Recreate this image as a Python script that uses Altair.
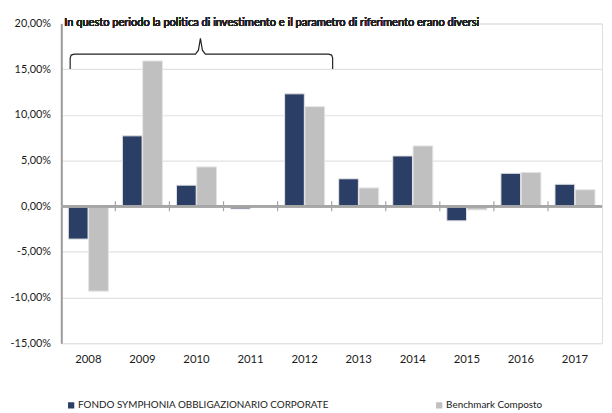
import altair as alt
import pandas as pd

years = ["2008", "2009", "2010", "2011", "2012", "2013", "2014", "2015", "2016", "2017"]
fund = [-3.6, 7.7, 2.3, -0.3, 12.3, 3.0, 5.5, -1.6, 3.6, 2.4]
bench = [-9.3, 15.9, 4.3, 0.0, 10.9, 2.0, 6.6, -0.4, 3.7, 1.8]
series = ["FONDO SYMPHONIA OBBLIGAZIONARIO CORPORATE", "Benchmark Composto"]
colors = ["#2b3e66", "#c0c0c0"]
y_ticks = [-15, -10, -5, 0, 5, 10, 15, 20]
note = "In questo periodo la politica di investimento e il parametro di riferimento erano diversi"

# brace shape (annotation, pixel space of plot area)
brace_x = [9, 9, 10, 13, 136, 139, 141, 143, 146, 271, 274, 275, 275]
brace_y = [46, 35, 32, 31, 31, 27, 15, 27, 31, 31, 32, 35, 46]

FONT = "Lato"

rows = []
for i, yr in enumerate(years):
    rows.append({"year": yr, "series": series[0], "value": fund[i]})
    rows.append({"year": yr, "series": series[1], "value": bench[i]})
df = pd.DataFrame(rows)
df_years = pd.DataFrame({"year": years})
df_brace = pd.DataFrame({"px": brace_x, "py": brace_y, "i": list(range(len(brace_x)))})

W, H = 548, 324

yscale = alt.Scale(domain=[-15, 20], nice=False, zero=False)

label_expr = "(datum.value < 0 ? '-' : '') + replace(format(abs(datum.value), '.2f'), '.', ',') + '%'"

bars = alt.Chart(df).mark_bar(stroke="#e4e4e4", strokeWidth=1).encode(
    x=alt.X("year:N", sort=years,
            scale=alt.Scale(paddingInner=0.26, paddingOuter=0.13),
            axis=alt.Axis(title=None, labelAngle=0, domain=False, ticks=False, grid=False,
                          labelPadding=11, labelFontSize=11.5, labelColor="#1a1a1a", labelFont=FONT)),
    xOffset=alt.XOffset("series:N", sort=series, scale=alt.Scale(paddingInner=0.03, paddingOuter=0)),
    y=alt.Y("value:Q", scale=yscale,
            axis=alt.Axis(title=None, values=y_ticks, labelExpr=label_expr, ticks=False,
                          domain=True, domainColor="#9a9a9a", domainWidth=2,
                          gridColor="#e2e2e2", gridWidth=1.2, labelPadding=11,
                          labelFontSize=11, labelColor="#1a1a1a", labelFont=FONT)),
    color=alt.Color("series:N", sort=series,
                    scale=alt.Scale(domain=series, range=colors),
                    legend=alt.Legend(title=None, orient="none", legendX=5, legendY=382,
                                      direction="horizontal", symbolType="square",
                                      symbolSize=40, symbolStrokeWidth=0, labelLimit=0,
                                      labelFontSize=10, labelFont=FONT, labelColor="#1a1a1a",
                                      columnPadding=106, labelOffset=2)),
)

zero = alt.Chart(df_years).mark_rule(color="#a6a6a6", strokeWidth=2).encode(
    y=alt.datum(0, scale=yscale), x=alt.value(0), x2=alt.value(W))

ticks = alt.Chart(df_years[1:]).mark_rule(color="#a6a6a6", strokeWidth=1.2).encode(
    x=alt.X("year:N", sort=years, bandPosition=0,
            scale=alt.Scale(domain=years, paddingInner=0, paddingOuter=0), axis=None),
    y=alt.datum(0.55, scale=yscale), y2=alt.datum(-0.55))

mask = alt.Chart(df_years).mark_rect(color="white").encode(
    x=alt.value(2), x2=alt.value(421), y=alt.value(-8), y2=alt.value(8))

txt = alt.Chart(df_years).mark_text(text=note, align="left", baseline="middle",
                                     fontSize=11.2, font=FONT, color="#222").encode(
    x=alt.value(3), y=alt.value(0))

brace = alt.Chart(df_brace).mark_line(color="#222", strokeWidth=1.2).encode(
    x=alt.X("px:Q", scale=None, axis=None),
    y=alt.Y("py:Q", scale=None, axis=None),
    order="i:Q")

chart = alt.layer(bars, zero, ticks, mask, txt, brace).resolve_scale(
    x="independent"
).properties(
    width=W, height=H,
    autosize=alt.AutoSizeParams(type="none"),
    padding={"left": 54, "top": 13, "right": 2, "bottom": 68},
).configure_view(stroke=None).configure(background="white")

chart.save("out.html", embed_options={"renderer": "svg", "actions": False})
